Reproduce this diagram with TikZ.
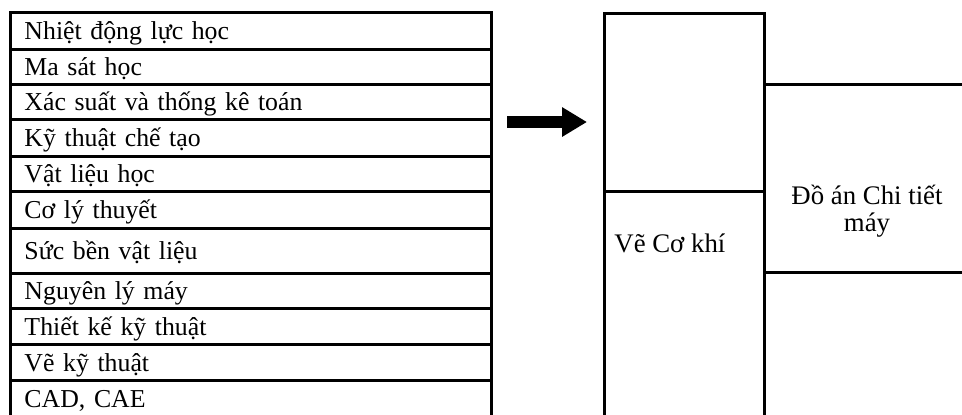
\documentclass[tikz,border=0pt]{standalone}
\usepackage{fontspec}
\setmainfont{Liberation Serif}
\usetikzlibrary{arrows.meta,positioning,calc}
\tikzset{
  frame/.style={draw=black, line width=1.5pt},
  rowbox/.style={frame, anchor=north west, minimum width=240.5pt, text width=226.5pt,
                 align=left, inner xsep=7pt, inner ysep=0pt, text height=11pt, text depth=2.5pt,
                 font=\fontsize{12.9}{13.5}\selectfont},
  colbox/.style={frame, anchor=north west, inner sep=0pt},
  label/.style={inner sep=0pt},
  bigarrow/.style={-{Triangle[length=12.5pt,width=14pt]}, line width=6pt, draw=black},
}

\begin{document}
\begin{tikzpicture}[x=0.5pt, y=-0.5pt, every node/.style={font=\fontsize{13.4}{13.5}\selectfont}]
    \useasboundingbox (0,0) rectangle (962,414);
    \clip (0,0) rectangle (962,414);
    % left column of subjects
    \foreach \i/\ya/\yb/\txt in {1/11/48/Nhiệt động lực học, 2/48/83/Ma sát học,
        3/83/118/Xác suất và thống kê toán, 4/118/155/Kỹ thuật chế tạo,
        5/155/190/Vật liệu học, 6/190/227/Cơ lý thuyết, 7/227/272/Sức bền vật liệu,
        8/272/307/Nguyên lý máy, 9/307/343/Thiết kế kỹ thuật, 10/343/379/Vẽ kỹ thuật,
        11/379/416/{CAD, CAE}}
      \node[rowbox, minimum height={(\yb-\ya)*0.5pt}] (row\i) at (9,\ya) {\txt};
    % arrow
    \coordinate (arrS) at (507,122);
    \coordinate (arrE) at (587,122);
    \draw[bigarrow] (arrS) -- (arrE);
    % middle and right columns
    \node[colbox, minimum width=80pt, minimum height=89.25pt] (vetop) at (603,11.5) {};
    \node[colbox, minimum width=80pt, minimum height=130pt] (vebot) at (603,190) {};
    \node[colbox, minimum width=110pt, minimum height=94pt] (doan) at (763,83) {};
    \node[label, anchor=base west] (vck) at (614,252) {Vẽ Cơ khí};
    \node[label, align=center, anchor=base] (dact) at (867,231) {Đồ án Chi tiết\\máy};
  \end{tikzpicture}
\end{document}
